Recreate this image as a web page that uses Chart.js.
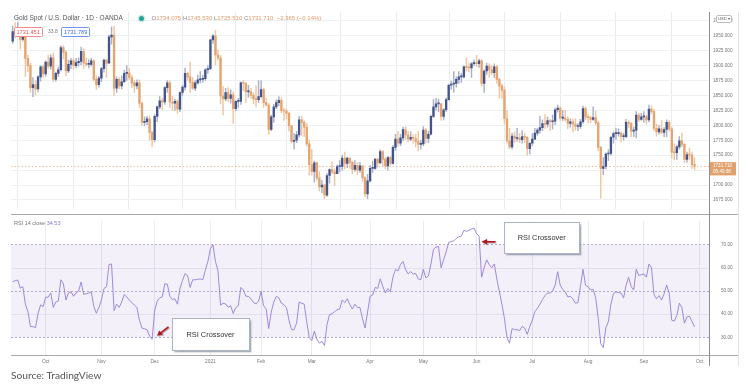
<!DOCTYPE html>
<html>
<head>
<meta charset="utf-8">
<script src="https://cdn.jsdelivr.net/npm/chart.js@4.4.1/dist/chart.umd.min.js"></script>
<style>
body{margin:0;background:#fff;width:750px;height:387px;overflow:hidden;position:relative;font-family:"Liberation Sans",Arial,sans-serif}
canvas{position:absolute;left:0}
#top{top:0}
#rsi{top:214px}
.abs{position:absolute;white-space:nowrap}
.line{position:absolute}
.pbox{position:absolute;height:8px;line-height:8px;font-size:5.6px;padding:0 2px;border-radius:1.5px;background:#fff}
.note{position:absolute;background:#fff;border:1px solid #a9b5c7;box-shadow:1.5px 1.5px 1.5px rgba(70,80,100,0.45);font-size:7.4px;color:#333;text-align:center}
</style>
</head>
<body>
<canvas id="top" width="750" height="216"></canvas>
<canvas id="rsi" width="750" height="160"></canvas>

<div class="line" style="left:11px;top:214px;width:727px;height:1px;background:#a9a9a9"></div>
<div class="line" style="left:11px;top:355px;width:727px;height:1px;background:#a9a9a9"></div>
<div class="line" style="left:709px;top:12px;width:1px;height:354px;background:#8e8e8e"></div>
<div class="line" style="left:738px;top:12px;width:1px;height:354px;background:#e2e2e2"></div>

<div class="abs" style="left:14px;top:14px;font-size:6.5px;color:#555">Gold Spot / U.S. Dollar · 1D · OANDA</div>
<div class="abs" style="left:138.5px;top:16px;width:5px;height:5px;border-radius:50%;background:#26a69a;box-shadow:0 0 0 1.2px #c9ece7"></div>
<div class="abs" style="left:151.5px;top:14.6px;font-size:6px;color:#e29a6a">
<span style="color:#8a8a8a">O</span>1734.075 <span style="color:#8a8a8a">H</span>1745.530 <span style="color:#8a8a8a">L</span>1725.510 <span style="color:#8a8a8a">C</span>1731.710 &nbsp;−2.365 (−0.14%)</div>
<div class="pbox" style="left:13.5px;top:27px;border:1px solid #ec8b8b;color:#e05555">1731.451</div>
<div class="abs" style="left:48px;top:28px;font-size:5px;color:#777">33.8</div>
<div class="pbox" style="left:61px;top:27px;border:1px solid #6f96e8;color:#3f6fd6">1731.789</div>
<div class="abs" style="left:716px;top:15px;width:14px;height:6px;line-height:6px;border:0.8px solid #bdbdbd;border-radius:2px;background:#fff;font-size:4px;color:#555;text-align:center">USD ▾</div>

<div class="abs" style="left:14px;top:219.5px;font-size:5.5px;color:#777">RSI 14 close <span style="color:#8f78d4">34.53</span></div>

<div class="note" style="left:171.5px;top:317.5px;width:76px;height:31px;line-height:31px">RSI Crossover</div>
<div class="note" style="left:504px;top:221.5px;width:73.5px;height:30px;line-height:30px">RSI Crossover</div>

<svg class="abs" style="left:0;top:0" width="750" height="387">
  <defs>
    <filter id="sh" x="-50%" y="-50%" width="200%" height="200%"><feDropShadow dx="0.8" dy="0.8" stdDeviation="0.6" flood-color="#000" flood-opacity="0.35"/></filter>
  </defs>
  <g filter="url(#sh)" fill="#b3161c" stroke="#b3161c">
    <line x1="168.5" y1="326.8" x2="161" y2="332.6" stroke-width="1.6"/>
    <polygon points="157,335.8 159.2,330.6 163.2,334.6" stroke="none"/>
    <line x1="495.5" y1="241.8" x2="486" y2="241.8" stroke-width="1.6"/>
    <polygon points="481.5,241.8 487,239 487,244.6" stroke="none"/>
  </g>
</svg>

<div class="abs" style="left:11px;top:368.5px;font-family:Lato,'Open Sans',sans-serif;font-size:10.2px;color:#555">Source: TradingView</div>

<script>
// daily candles, Sep 14 2020 .. Sep 29 2021 (OANDA XAUUSD)
const openP = [
1941,1957,1955,1960,1944,1950,1912,1900,1863,1868,1861,1881,1898,
1886,1906,1899,1913,1877,1887,1893,1930,1922,1891,1902,1908,1900,1905,1907,1924,1904,1902,1902,1908,1877,1868,
1879,1895,1909,1904,1948,1951,1862,1877,1866,1873,1887,1888,1880,1871,1866,1871,1837,1805,1806,1811,1788,
1776,1815,1831,1841,1839,1863,1871,1839,1837,1840,1827,1855,1864,1887,1881,1872,1862,1871,1876,1877,1878,1893,
1895,1943,1950,1918,1913,1849,1844,1855,1845,1851,1828,1840,1840,1871,1870,1856,1856,1850,1844,1843,
1848,1860,1838,1834,1793,1814,1831,1838,1842,1825,1824,1820,1799,1773,1775,1784,1809,1805,1797,1769,
1734,1723,1737,1712,1697,1700,1683,1716,1726,1722,1719,1731,1731,1745,1736,1745,1738,1726,1733,1725,1732,1712,1685,
1707,1728,1728,1743,1737,1756,1743,1732,1746,1736,1763,1777,1770,1779,1793,1784,1777,1780,1778,1773,1768,
1769,1792,1778,1785,1815,1831,1836,1836,1815,1826,1843,1867,1869,1870,1877,1881,1881,1898,1897,1896,1903,
1905,1903,1908,1870,1891,1899,1893,1888,1898,1877,1866,1859,1811,1774,1764,1782,1778,1779,1776,1781,1780,1761,
1770,1777,1787,1792,1796,1803,1802,1808,1806,1807,1826,1829,1812,1812,1810,1803,1806,1802,1798,1798,1806,1828,
1814,1813,1810,1813,1804,1763,1728,1731,1752,1753,1780,1786,1786,1787,1781,1781,1805,1803,1790,1792,1817,1810,
1814,1814,1809,1827,1823,1795,1789,1794,1788,1793,1805,1794,1755,1754,1764,1774,1768,1743,1751,1750,1734.075];

const highP = [
1966,1972,1973,1963,1962,1953,1917,1904,1880,1875,1883,1900,1901,
1908,1917,1918,1921,1889,1897,1933,1933,1925,1909,1912,1911,1912,1913,1931,1928,1913,1910,1912,1910,1883,1882,
1897,1911,1910,1951,1965,1966,1881,1880,1883,1892,1900,1895,1884,1875,1876,1876,1839,1814,1815,1816,1790,
1818,1832,1848,1845,1865,1875,1875,1849,1844,1843,1856,1867,1896,1889,1906,1880,1875,1884,1890,1884,1895,1900,
1944,1952,1959,1926,1917,1865,1862,1863,1860,1856,1841,1845,1873,1875,1872,1867,1862,1855,1866,1875,
1875,1862,1845,1837,1817,1835,1843,1848,1846,1829,1827,1822,1800,1786,1790,1815,1815,1808,1803,1775,
1760,1740,1739,1722,1708,1702,1719,1727,1739,1727,1734,1741,1750,1755,1747,1745,1740,1741,1738,1738,1732,1714,1718,
1733,1740,1745,1745,1759,1758,1746,1748,1748,1766,1785,1790,1785,1797,1798,1790,1789,1784,1785,1790,1775,
1798,1795,1790,1817,1843,1845,1844,1837,1828,1846,1869,1874,1890,1881,1890,1887,1900,1913,1904,1905,1909,
1917,1911,1910,1893,1904,1903,1900,1903,1901,1879,1869,1864,1825,1795,1787,1789,1795,1786,1791,1787,1781,1771,
1786,1795,1795,1815,1809,1818,1814,1810,1817,1829,1834,1831,1825,1825,1814,1811,1811,1811,1803,1810,1832,1831,
1819,1815,1831,1824,1807,1765,1746,1754,1759,1782,1789,1795,1794,1789,1787,1810,1808,1805,1797,1823,1820,1820,
1823,1817,1834,1832,1827,1802,1800,1808,1796,1809,1808,1797,1769,1767,1781,1787,1770,1755,1762,1755,1745.53];

const lowP = [
1937,1946,1950,1928,1941,1882,1890,1855,1848,1851,1856,1874,1880,
1882,1895,1894,1873,1874,1882,1891,1911,1883,1888,1895,1894,1896,1899,1901,1895,1899,1896,1899,1874,1860,1864,
1873,1889,1880,1904,1936,1850,1855,1861,1861,1871,1875,1877,1863,1855,1861,1830,1800,1799,1801,1775,1764,
1772,1806,1828,1826,1835,1855,1830,1825,1825,1820,1823,1850,1859,1875,1855,1860,1858,1869,1871,1872,1875,1887,
1893,1937,1901,1909,1836,1817,1841,1839,1837,1803,1824,1830,1835,1858,1838,1847,1845,1836,1831,1838,
1846,1830,1832,1785,1791,1805,1828,1833,1821,1808,1811,1790,1770,1760,1771,1780,1783,1781,1765,1717,
1717,1705,1708,1690,1687,1677,1681,1703,1719,1699,1719,1722,1725,1727,1729,1728,1719,1723,1718,1721,1706,1680,1677,
1705,1721,1726,1730,1736,1731,1727,1725,1733,1735,1758,1765,1766,1774,1776,1772,1774,1770,1764,1757,1760,
1766,1770,1771,1784,1813,1825,1823,1808,1809,1823,1842,1860,1855,1864,1870,1872,1879,1891,1889,1880,1900,
1898,1897,1866,1855,1885,1880,1885,1880,1870,1845,1845,1802,1770,1761,1760,1771,1773,1771,1770,1771,1750,1752,
1766,1776,1783,1787,1791,1795,1797,1791,1794,1801,1822,1808,1808,1807,1794,1797,1789,1792,1791,1795,1803,1809,
1804,1804,1808,1801,1757,1678,1718,1727,1741,1750,1770,1776,1782,1772,1775,1779,1796,1781,1781,1779,1806,1808,
1805,1802,1806,1820,1791,1782,1785,1786,1781,1781,1790,1745,1742,1743,1760,1764,1738,1738,1743,1728,1725.51];

const closeP = [
1957,1955,1960,1944,1950,1912,1900,1863,1868,1861,1881,1898,1886,
1906,1899,1913,1877,1887,1893,1930,1922,1891,1902,1908,1900,1905,1907,1924,1904,1902,1902,1908,1877,1868,1879,
1895,1909,1904,1948,1951,1862,1877,1866,1873,1887,1888,1880,1871,1866,1871,1837,1805,1806,1811,1788,1776,
1815,1831,1841,1839,1863,1871,1839,1837,1840,1827,1855,1864,1887,1881,1872,1862,1871,1876,1877,1878,1893,1895,
1943,1950,1918,1913,1849,1844,1855,1845,1851,1828,1840,1840,1871,1870,1856,1856,1850,1844,1843,1848,
1860,1838,1834,1793,1814,1831,1838,1842,1825,1824,1820,1799,1773,1775,1784,1809,1805,1797,1769,1734,
1723,1737,1712,1697,1700,1683,1716,1726,1722,1719,1731,1731,1745,1736,1745,1738,1726,1733,1725,1732,1712,1685,1707,
1728,1728,1743,1737,1756,1743,1732,1746,1736,1763,1777,1770,1779,1793,1784,1777,1780,1778,1773,1768,1769,
1792,1778,1785,1815,1831,1836,1836,1815,1826,1843,1867,1869,1870,1877,1881,1881,1898,1897,1896,1903,1905,
1903,1908,1870,1891,1899,1893,1888,1898,1877,1866,1859,1811,1774,1764,1782,1778,1779,1776,1781,1780,1761,1770,
1777,1787,1792,1796,1803,1802,1808,1806,1807,1826,1829,1812,1812,1810,1803,1806,1802,1798,1798,1806,1828,1814,
1813,1810,1813,1804,1763,1728,1731,1752,1753,1780,1786,1786,1787,1781,1781,1805,1803,1790,1792,1817,1810,1814,
1814,1809,1827,1823,1795,1789,1794,1788,1793,1805,1794,1755,1754,1764,1774,1768,1743,1751,1750,1734,1731.71];

// RSI(14) of close
const rsiVals = [
54.0,54.4,54.7,51.2,51.8,44.3,41.1,34.7,34.6,34.2,40.2,44.0,43.2,
47.3,47.3,49.1,42.9,45.2,45.6,54.8,53.1,46.1,49.1,49.6,47.7,49.1,50.0,53.8,48.5,48.8,49.1,49.6,43.3,40.4,42.9,
46.1,51.0,51.8,61.4,61.6,41.5,44.3,42.9,45.2,48.4,47.4,46.1,45.0,43.9,42.9,37.4,34.0,33.7,33.3,30.6,29.2,
41.5,45.6,47.0,47.4,53.1,52.9,47.7,46.3,46.6,44.3,51.1,54.5,57.5,56.6,51.5,54.8,54.8,55.0,55.2,54.8,58.9,62.7,
68.2,69.8,62.7,58.6,43.9,44.7,44.4,43.0,43.6,40.3,42.8,43.6,51.5,50.4,47.7,47.7,46.6,45.0,44.4,45.6,
49.7,43.6,42.2,33.8,40.9,45.2,47.7,47.0,44.7,44.1,42.8,37.4,33.3,33.3,36.1,45.2,44.7,44.3,36.8,29.9,
28.6,32.7,29.2,27.5,28.3,26.5,35.4,39.8,40.2,41.1,41.9,42.2,46.1,45.0,46.6,44.1,42.2,44.3,42.9,42.9,38.1,34.0,40.9,
47.7,48.2,51.5,51.1,55.2,52.0,49.1,51.0,49.7,55.9,59.2,58.6,61.4,62.7,59.2,57.3,58.3,57.3,57.5,55.2,54.8,
59.3,55.6,56.4,61.6,67.9,68.9,69.1,60.0,63.4,66.8,70.9,71.3,71.5,72.6,73.4,73.6,76.1,75.7,76.0,76.7,77.1,
74.7,73.6,55.9,60.0,63.4,61.3,60.0,61.6,55.2,49.7,44.3,38.1,29.9,27.5,33.8,33.3,33.3,32.9,34.7,34.0,31.3,34.7,
37.4,41.1,42.5,44.3,46.3,48.0,49.1,49.1,49.9,52.5,58.3,52.5,50.6,49.6,47.4,47.7,46.6,44.7,45.0,52.0,59.3,52.5,
51.8,50.4,50.7,47.0,38.1,27.2,25.6,34.1,36.8,44.3,48.8,49.6,49.3,49.1,47.0,52.5,55.9,51.8,50.4,59.3,56.6,57.0,
57.3,55.9,61.6,60.0,48.4,46.6,48.0,46.1,48.8,52.5,49.1,37.4,37.0,39.4,44.7,42.9,36.1,38.8,39.1,36.8,34.5];

const monthLabels = ['Oct','Nov','Dec','2021','Feb','Mar','Apr','May','Jun','Jul','Aug','Sep','Oct'];
const priceTicks = [1675,1700,1725,1750,1775,1800,1825,1850,1875,1900,1925,1950,1975];
const rsiTicks = [30,40,50,60,70];
const holidays = ['2020-12-25','2021-01-01','2021-04-02'];

// trading days (weekdays, market holidays left out) -> x index
const days = [];
for (let d = new Date(Date.UTC(2020,8,14)); d <= new Date(Date.UTC(2021,9,1)); d.setUTCDate(d.getUTCDate()+1)) {
  const w = d.getUTCDay(), s = d.toISOString().slice(0,10);
  if (w === 0 || w === 6 || holidays.includes(s)) continue;
  days.push(s);
}
const monthIdx = [];
for (let i = 1; i < days.length; i++) {
  if (days[i].slice(5,7) !== days[i-1].slice(5,7)) monthIdx.push(i);
}

const xMin = -0.67, xMax = 274.7;
const tickFont = {size:4.7, family:'Liberation Sans'};

const up = closeP.map((c,i) => c >= openP[i]);
const wicks = closeP.map((c,i) => ({x:i, y:[lowP[i], highP[i]]}));
const bodies = closeP.map((c,i) => ({x:i, y:[Math.min(openP[i],c), Math.max(openP[i],c)]}));

const lastPrice = {
  id:'lastPrice',
  beforeDatasetsDraw(c) {
    const {ctx, chartArea:a, scales:{y}} = c;
    const py = Math.round(y.getPixelForValue(closeP[closeP.length-1])) + 0.5;
    ctx.save();
    ctx.strokeStyle = 'rgba(226,150,95,0.6)';
    ctx.lineWidth = 1;
    ctx.setLineDash([1.5,2]);
    ctx.beginPath(); ctx.moveTo(a.left, py); ctx.lineTo(a.right, py); ctx.stroke();
    ctx.restore();
  },
  afterDraw(c) {
    const {ctx, chartArea:a, scales:{y}} = c;
    const last = closeP[closeP.length-1];
    const py = y.getPixelForValue(last);
    ctx.save();
    ctx.fillStyle = '#e0a16c';
    ctx.fillRect(a.right + 0.5, py - 4, 26.5, 13.3);
    ctx.fillStyle = '#fff';
    ctx.font = '4.6px Liberation Sans';
    ctx.textBaseline = 'middle';
    ctx.fillText(last.toFixed(3), a.right + 4, py - 0.6);
    ctx.fillText('05:49:38', a.right + 4, py + 5.3);
    ctx.restore();
  }
};

new Chart(document.getElementById('top'), {
  type:'bar',
  data:{datasets:[
    {data:wicks, backgroundColor:up.map(u => u ? '#aab1c7' : '#efc6a2'), barThickness:0.8, grouped:false, order:2},
    {data:bodies, backgroundColor:up.map(u => u ? '#43548c' : '#e3a46f'), barThickness:1.7, grouped:false, minBarLength:1, order:1}
  ]},
  options:{
    responsive:false, animation:false, events:[],
    layout:{padding:{left:11, top:12, right:0, bottom:2}},
    plugins:{legend:{display:false}, tooltip:{enabled:false}},
    scales:{
      x:{type:'linear', min:xMin, max:xMax, offset:false,
        grid:{color:'#e7ecf1', drawTicks:false}, border:{display:false},
        ticks:{display:false},
        afterBuildTicks:s => { s.ticks = monthIdx.map(v => ({value:v})); },
        afterFit:s => { s.height = 0; }},
      y:{position:'right', min:1659.6, max:1989.7,
        grid:{color:'#eef1f4', drawTicks:false}, border:{display:false},
        afterBuildTicks:s => { s.ticks = priceTicks.map(v => ({value:v})); },
        ticks:{padding:4, color:'#777', font:tickFont, callback:v => v.toFixed(3)},
        afterFit:s => { s.width = 41; }}
    }
  },
  plugins:[lastPrice]
});

const rsiBand = {
  id:'rsiBand',
  beforeDatasetsDraw(c) {
    const {ctx, chartArea:a, scales:{y}} = c;
    const py = v => Math.round(y.getPixelForValue(v)) + 0.5;
    ctx.save();
    ctx.fillStyle = 'rgba(126,87,194,0.09)';
    ctx.fillRect(a.left, py(70), a.right - a.left, py(30) - py(70));
    ctx.lineWidth = 1;
    ctx.strokeStyle = '#e3dfee';
    [40,60].forEach(v => { ctx.beginPath(); ctx.moveTo(a.left, py(v)); ctx.lineTo(a.right, py(v)); ctx.stroke(); });
    ctx.strokeStyle = '#b3abc9';
    ctx.setLineDash([2,2]);
    [30,50,70].forEach(v => { ctx.beginPath(); ctx.moveTo(a.left, py(v)); ctx.lineTo(a.right, py(v)); ctx.stroke(); });
    ctx.restore();
  }
};

new Chart(document.getElementById('rsi'), {
  type:'line',
  data:{datasets:[{data:rsiVals.map((v,i) => ({x:i, y:v})), borderColor:'#957ed8', borderWidth:0.9, pointRadius:0, tension:0}]},
  options:{
    responsive:false, animation:false, events:[],
    layout:{padding:{left:11, top:0, right:0, bottom:0}},
    plugins:{legend:{display:false}, tooltip:{enabled:false}},
    scales:{
      x:{type:'linear', min:xMin, max:xMax, offset:false,
        grid:{color:'#e7ecf1', drawTicks:false}, border:{display:false},
        afterBuildTicks:s => { s.ticks = monthIdx.map(v => ({value:v})); },
        ticks:{autoSkip:false, maxRotation:0, padding:3.5, color:'#777', font:{size:4.8, family:'Liberation Sans'},
          callback:(v,i) => monthLabels[i]},
        afterFit:s => { s.height = 19; }},
      y:{position:'right', min:22.4, max:80.2,
        grid:{display:false}, border:{display:false},
        afterBuildTicks:s => { s.ticks = rsiTicks.map(v => ({value:v})); },
        ticks:{padding:4, color:'#777', font:tickFont, callback:v => v.toFixed(2)},
        afterFit:s => { s.width = 41; }}
    }
  }
  ,plugins:[rsiBand]
});
</script>
</body>
</html>
